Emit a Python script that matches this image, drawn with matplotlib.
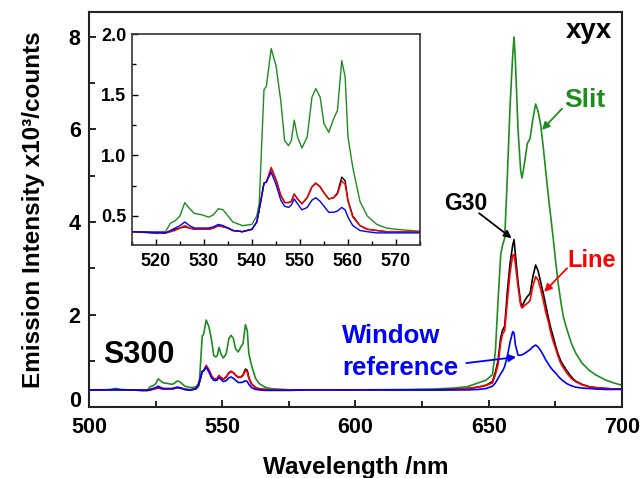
import numpy as np
import matplotlib.pyplot as plt
from matplotlib.ticker import MultipleLocator, FormatStrFormatter
from matplotlib.transforms import ScaledTranslation

plt.rcParams['font.family'] = ['Liberation Sans', 'DejaVu Sans']
plt.rcParams['font.weight'] = 'bold'

# wavelength grid (nm)
wl = [500, 505, 508, 510, 512, 515, 520, 522,
      523, 524, 525, 526, 527, 528, 529.5, 531, 532, 533, 534, 535, 536, 538, 540,
      541, 541.5, 542.5, 543, 544, 545, 546, 546.8, 547.6, 548.2, 548.8, 549.5, 550.4,
      551.5, 552.5, 553.3, 554.2, 555, 556, 557, 557.8, 558.7, 559.4, 560, 561,
      562.5, 564, 566, 568, 570, 573, 576, 580, 600, 620, 630, 637, 642, 646, 649,
      651.4, 652.5, 653.5, 654.5, 655.2, 656, 657, 658, 659, 659.5, 660, 661, 662, 662.5,
      663.5, 664.5, 665.5, 666.5, 667.6, 668.5, 669.5, 670.5, 671.4, 672.5, 673.3, 674.3,
      675.2, 676, 677, 678, 679.5, 681, 682.6, 685, 687.6, 690, 694, 697, 700]

# emission intensity x10^3 counts
slit = [0.37, 0.37, 0.38, 0.40, 0.38, 0.37, 0.37, 0.37,
        0.44, 0.46, 0.50, 0.61, 0.56, 0.52, 0.51, 0.49, 0.51, 0.56, 0.55, 0.50, 0.45, 0.42, 0.43,
        0.50, 0.60, 1.54, 1.57, 1.88, 1.74, 1.45, 1.12, 1.08, 1.12, 1.29, 1.15, 1.06,
        1.15, 1.48, 1.55, 1.48, 1.26, 1.19, 1.30, 1.37, 1.78, 1.65, 1.15, 0.90,
        0.62, 0.50, 0.43, 0.40, 0.39, 0.38, 0.37, 0.37, 0.37, 0.38, 0.39, 0.41, 0.44, 0.52, 0.58,
        0.70, 1.20, 2.30, 3.30, 3.50, 3.65, 5.00, 6.50, 7.60, 8.00, 7.50, 6.00, 5.10, 4.95,
        5.30, 5.70, 5.80, 6.20, 6.55, 6.40, 6.10, 5.60, 5.10, 4.50, 4.10, 3.60,
        3.10, 2.70, 2.30, 1.95, 1.65, 1.38, 1.17, 0.95, 0.80, 0.70, 0.58, 0.52, 0.47]

g30 = [0.37, 0.37, 0.37, 0.37, 0.37, 0.37, 0.36, 0.36,
       0.37, 0.39, 0.40, 0.41, 0.40, 0.39, 0.39, 0.39, 0.40, 0.42, 0.41, 0.40, 0.38, 0.37, 0.39,
       0.45, 0.55, 0.77, 0.78, 0.89, 0.80, 0.67, 0.61, 0.61, 0.62, 0.68, 0.64, 0.60,
       0.65, 0.74, 0.77, 0.74, 0.69, 0.64, 0.65, 0.69, 0.82, 0.79, 0.63, 0.50,
       0.42, 0.39, 0.38, 0.37, 0.37, 0.37, 0.37, 0.37, 0.37, 0.37, 0.37, 0.38, 0.40, 0.43, 0.47,
       0.55, 0.75, 1.00, 1.50, 1.66, 1.75, 2.50, 3.10, 3.50, 3.62, 3.30, 2.70, 2.25, 2.17,
       2.30, 2.39, 2.45, 2.80, 3.07, 2.95, 2.70, 2.45, 2.20, 1.90, 1.70, 1.50,
       1.30, 1.15, 1.00, 0.90, 0.77, 0.65, 0.56, 0.49, 0.44, 0.42, 0.40, 0.39, 0.39]

line = [0.37, 0.37, 0.37, 0.37, 0.37, 0.37, 0.36, 0.36,
        0.37, 0.38, 0.40, 0.42, 0.40, 0.39, 0.39, 0.39, 0.40, 0.42, 0.41, 0.40, 0.38, 0.37, 0.39,
        0.45, 0.55, 0.77, 0.78, 0.90, 0.80, 0.67, 0.61, 0.61, 0.62, 0.68, 0.64, 0.60,
        0.65, 0.74, 0.77, 0.74, 0.69, 0.64, 0.65, 0.68, 0.79, 0.76, 0.62, 0.49,
        0.42, 0.39, 0.38, 0.37, 0.37, 0.37, 0.37, 0.37, 0.37, 0.37, 0.37, 0.38, 0.40, 0.43, 0.47,
        0.52, 0.70, 0.92, 1.40, 1.58, 1.65, 2.30, 2.90, 3.28, 3.30, 3.10, 2.60, 2.20, 2.14,
        2.20, 2.24, 2.30, 2.60, 2.82, 2.75, 2.55, 2.30, 2.05, 1.82, 1.60, 1.40,
        1.25, 1.10, 0.95, 0.85, 0.72, 0.62, 0.55, 0.48, 0.44, 0.42, 0.40, 0.39, 0.39]

window = [0.37, 0.37, 0.37, 0.38, 0.37, 0.37, 0.36, 0.36,
          0.38, 0.40, 0.42, 0.45, 0.42, 0.40, 0.40, 0.40, 0.41, 0.43, 0.42, 0.40, 0.38, 0.37, 0.39,
          0.45, 0.55, 0.77, 0.78, 0.86, 0.76, 0.63, 0.58, 0.57, 0.59, 0.64, 0.60, 0.55,
          0.57, 0.63, 0.65, 0.62, 0.58, 0.53, 0.53, 0.54, 0.57, 0.55, 0.49, 0.42,
          0.38, 0.37, 0.36, 0.36, 0.36, 0.36, 0.36, 0.37, 0.37, 0.37, 0.37, 0.37, 0.37, 0.38, 0.40,
          0.45, 0.52, 0.62, 0.72, 0.78, 0.88, 1.10, 1.40, 1.63, 1.60, 1.35, 1.12, 1.12, 1.13,
          1.16, 1.20, 1.24, 1.30, 1.34, 1.30, 1.22, 1.12, 1.02, 0.92, 0.85, 0.78,
          0.73, 0.67, 0.61, 0.56, 0.50, 0.46, 0.43, 0.41, 0.40, 0.39, 0.38, 0.38, 0.38]

green = '#1e8c1e'
series = [(slit, green), (g30, 'black'), (line, '#ff0000'), (window, '#0000ff')]

fig = plt.figure(figsize=(6.41, 4.78), dpi=100)
ax = fig.add_axes([0.1388, 0.1485, 0.8315, 0.8264])
for y, c in series:
    ax.plot(wl, y, color=c, lw=1.2)

ax.set_xlim(500, 700)
ax.set_ylim(0, 8.54)
ax.xaxis.set_major_locator(MultipleLocator(50))
ax.xaxis.set_minor_locator(MultipleLocator(25))
ax.yaxis.set_major_locator(MultipleLocator(2))
ax.yaxis.set_minor_locator(MultipleLocator(1))
ax.tick_params(which='both', direction='in', top=False, right=False, width=1.2)
ax.tick_params(which='major', length=5, labelsize=15.5)
ax.tick_params(which='minor', length=4)
ax.tick_params(axis='x', pad=7)
ax.tick_params(axis='y', pad=6)
for s in ax.spines.values():
    s.set_linewidth(1.5)
    s.set_color('#222222')

ax.set_xlabel('Wavelength /nm', fontsize=17.5, fontweight='bold')
ax.set_ylabel('Emission Intensity x10³/counts', fontsize=17.5, fontweight='bold')
ax.xaxis.set_label_coords(0.5, -0.125)
ax.yaxis.set_label_coords(-0.082, 0.5)

# labels and arrows
ax.text(696.3, 7.97, 'xyx', fontsize=20, fontweight='bold', ha='right', va='baseline')
ax.text(678.3, 6.49, 'Slit', fontsize=19, fontweight='bold', color=green, va='baseline')
ax.text(633.3, 4.26, 'G30', fontsize=16.5, fontweight='bold', va='baseline')
ax.text(679.4, 3.03, 'Line', fontsize=17, fontweight='bold', color='#ff0000', va='baseline')
ax.text(595.1, 1.38, 'Window', fontsize=18.5, fontweight='bold', color='#0000ff', va='baseline')
ax.text(595.1, 0.69, 'reference', fontsize=18.5, fontweight='bold', color='#0000ff', va='baseline')
ax.text(505.2, 0.95, 'S300', fontsize=22, fontweight='bold', va='baseline')

arrows = [((677.5, 6.45), (670.0, 5.99), green),
          ((646.4, 4.19), (658.6, 3.65), 'black'),
          ((679.4, 3.00), (670.8, 2.49), '#ff0000'),
          ((641.6, 0.95), (660.3, 1.08), '#0000ff')]
for tail, head, c in arrows:
    ax.annotate('', xy=head, xytext=tail,
                arrowprops=dict(arrowstyle='-|>', color=c, lw=1.3,
                                mutation_scale=11, shrinkA=0, shrinkB=0))

# inset
ins = fig.add_axes([0.2059, 0.4874, 0.4493, 0.4414])
for y, c in series:
    ins.plot(wl, y, color=c, lw=1.0)
ins.set_xlim(515, 575)
ins.set_ylim(0.26, 2.0)
ins.xaxis.set_major_locator(MultipleLocator(10))
ins.xaxis.set_minor_locator(MultipleLocator(5))
ins.yaxis.set_major_locator(MultipleLocator(0.5))
ins.yaxis.set_minor_locator(MultipleLocator(0.25))
ins.yaxis.set_major_formatter(FormatStrFormatter('%.1f'))
ins.tick_params(which='both', direction='in', top=False, right=False, width=1.0)
ins.tick_params(which='major', length=4, labelsize=13)
ins.tick_params(which='minor', length=3)
ins.tick_params(axis='x', pad=6)
ins.tick_params(axis='y', pad=4)
for s in ins.spines.values():
    s.set_linewidth(1.2)
    s.set_color('#333333')

# lift the "0" label a little, as in the original
fig.canvas.draw()
for tick in ax.yaxis.get_major_ticks():
    if abs(tick.get_loc()) < 1e-9:
        lab = tick.label1
        lab.set_transform(lab.get_transform() + ScaledTranslation(0, 6 / 72, fig.dpi_scale_trans))

fig.savefig('out.png', dpi=100)
